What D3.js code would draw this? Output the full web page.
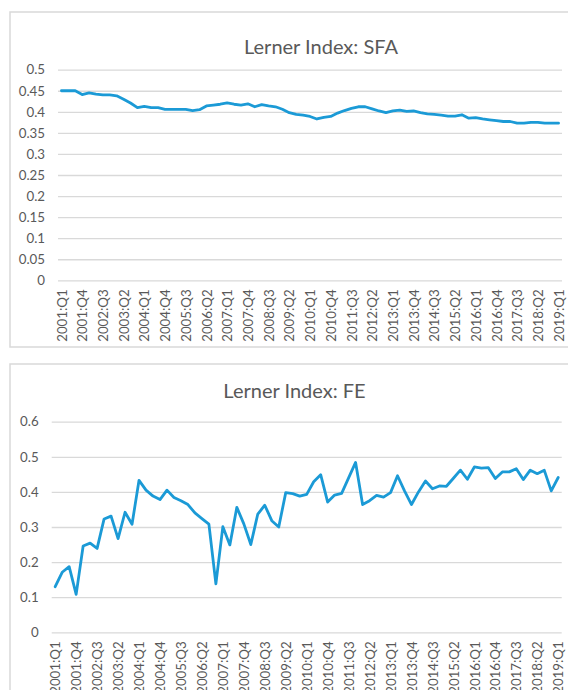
<!DOCTYPE html>
<html>
<head>
<meta charset="utf-8">
<script src="https://cdnjs.cloudflare.com/ajax/libs/d3/7.8.5/d3.min.js"></script>
<style>
  body { margin: 0; background: #fff; }
  svg { display: block; }
  text { font-family: Lato, "Open Sans", sans-serif; fill: #595959; }
</style>
</head>
<body>
<svg id="chart" width="568" height="690"></svg>
<script>
// quarterly categories 2001:Q1 .. 2019:Q1
var quarters = []
for (var y = 2001; y <= 2019; y++) {
    for (var q = 1; q <= 4; q++) {
        if (y === 2019 && q > 1) break
        quarters.push(`${y}:Q${q}`)
    }
}

// Lerner index, stochastic frontier approach
var sfaValues = [
    0.450,0.450,0.450,0.441,0.445,0.442,0.440,0.440,0.438,0.430,
    0.421,0.410,0.413,0.410,0.410,0.406,0.406,0.406,0.406,0.403,
    0.405,0.414,0.416,0.418,0.421,0.418,0.416,0.419,0.412,0.417,
    0.414,0.412,0.406,0.398,0.394,0.392,0.389,0.383,0.387,0.389,
    0.397,0.403,0.408,0.412,0.412,0.407,0.402,0.398,0.402,0.404,
    0.401,0.402,0.398,0.395,0.394,0.392,0.390,0.390,0.393,0.385,
    0.386,0.383,0.381,0.379,0.377,0.377,0.373,0.373,0.375,0.375,
    0.373,0.373,0.373
]

// Lerner index, fixed effects
var feValues = [
    0.130,0.171,0.187,0.108,0.246,0.254,0.239,0.323,0.331,0.267,
    0.342,0.308,0.433,0.405,0.388,0.378,0.405,0.384,0.375,0.364,
    0.340,0.324,0.308,0.138,0.301,0.249,0.356,0.309,0.250,0.337,
    0.362,0.318,0.300,0.398,0.395,0.388,0.393,0.429,0.449,0.371,
    0.391,0.396,0.440,0.484,0.364,0.375,0.390,0.385,0.398,0.446,
    0.403,0.364,0.400,0.431,0.409,0.417,0.416,0.439,0.462,0.436,
    0.471,0.468,0.469,0.438,0.457,0.457,0.466,0.435,0.462,0.452,
    0.462,0.403,0.441
]

var sfaTicks = [0,0.05,0.1,0.15,0.2,0.25,0.3,0.35,0.4,0.45,0.5]
var feTicks = [0,0.1,0.2,0.3,0.4,0.5,0.6]

const lineColor = "#1b9ad6"
const gridColor = "#d9d9d9"

const svg = d3.select("#chart")

function drawPanel(cfg) {
    // chart frame
    svg.append("rect")
        .attr("x", cfg.frame[0]).attr("y", cfg.frame[1])
        .attr("width", cfg.frame[2]).attr("height", cfg.frame[3])
        .attr("fill", "#fff")
        .attr("stroke", gridColor)
        .attr("stroke-width", 1.5)

    svg.append("text")
        .attr("x", cfg.titleX).attr("y", cfg.titleY)
        .attr("text-anchor", "middle")
        .attr("dy", "0.35em")
        .style("font-size", "20px")
        .text(cfg.title)

    const x = d3.scalePoint()
        .domain(quarters)
        .range([cfg.left, cfg.right])
        .padding(0.5)

    const y = d3.scaleLinear()
        .domain([0, d3.max(cfg.ticks)])
        .range([cfg.bottom, cfg.top])

    // y gridlines + labels
    const yAxis = svg.append("g")
        .attr("transform", `translate(${cfg.left},0)`)
        .call(d3.axisLeft(y)
            .tickValues(cfg.ticks)
            .tickSize(-(cfg.right - cfg.left))
            .tickPadding(13)
            .tickFormat(d => String(+d.toFixed(2))))
    yAxis.select(".domain").remove()
    yAxis.selectAll("line").attr("stroke", gridColor).attr("stroke-width", 1.3)
    yAxis.selectAll("text")
        .style("font-size", "13.3px")
        .style("font-family", "Lato, 'Open Sans', sans-serif")
        .attr("fill", "#595959")

    // category labels, every third quarter, rotated
    const xAxis = svg.append("g")
        .attr("transform", `translate(0,${cfg.bottom})`)
        .call(d3.axisBottom(x)
            .tickValues(quarters.filter((d, i) => i % 3 === 0))
            .tickSize(0))
    xAxis.select(".domain").remove()
    xAxis.selectAll("text")
        .attr("transform", "rotate(-90)")
        .attr("text-anchor", "end")
        .attr("x", -9)
        .attr("y", 0)
        .attr("dy", "0.35em")
        .style("font-size", "13.3px")
        .style("font-family", "Lato, 'Open Sans', sans-serif")
        .attr("fill", "#595959")

    const line = d3.line()
        .x((d, i) => x(quarters[i]))
        .y(d => y(d))

    svg.append("path")
        .datum(cfg.values)
        .attr("d", line)
        .attr("fill", "none")
        .attr("stroke", lineColor)
        .attr("stroke-width", 2.8)
        .attr("stroke-linejoin", "round")
        .attr("stroke-linecap", "round")
}

drawPanel({
    title: "Lerner Index: SFA",
    values: sfaValues,
    ticks: sfaTicks,
    frame: [10, 12, 640, 335],
    titleX: 321, titleY: 46.5,
    left: 58, right: 562, top: 69.7, bottom: 280.3
})

drawPanel({
    title: "Lerner Index: FE",
    values: feValues,
    ticks: feTicks,
    frame: [10, 364, 640, 400],
    titleX: 294.5, titleY: 390.5,
    left: 51.7, right: 561.7, top: 421.7, bottom: 632.3
})
</script>
</body>
</html>
